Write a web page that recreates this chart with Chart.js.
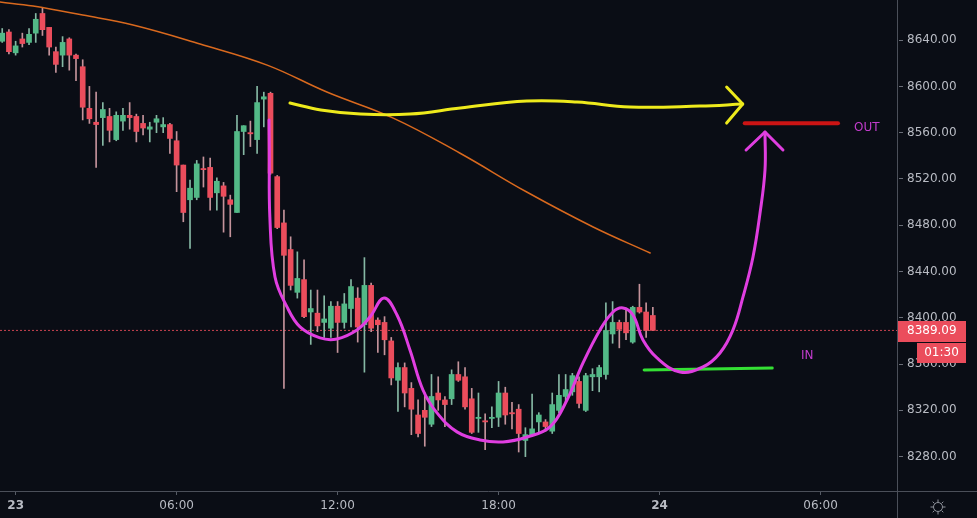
<!DOCTYPE html>
<html>
<head>
<meta charset="utf-8">
<script src="https://cdn.jsdelivr.net/npm/chart.js@4.4.0/dist/chart.umd.min.js"></script>
<style>
  html, body { margin: 0; padding: 0; background: #0a0d15; }
  #wrap { width: 977px; height: 518px; }
</style>
</head>
<body>
<div id="wrap"><canvas id="myChart"></canvas></div>
<script>
// 15 min candles, x = candle index, 0 = "23" 00:00 (first visible candle is 22 23:30)
const firstIdx = -2;

const opens = [8639,8647,8629,8641,8638,8646,8663,8651,8630,8627,
  8641,8627,8617,8581,8569,8573,8574,8554,8570,8575,
  8574,8568,8563,8569,8565,8567,8553,8532,8502,8504,
  8529,8530,8508,8514,8502,8491,8561,8560,8554,8589,
  8594,8522,8482,8459,8422,8433,8405,8404,8396,8391,
  8410,8396,8408,8417,8394,8428,8398,8396,8380,8346,
  8357,8339,8316,8320,8308,8335,8329,8330,8351,8349,
  8330,8313,8311,8313,8314,8335,8318,8321,8294,8299,
  8310,8310,8302,8320,8332,8336,8345,8320,8349,8349,
  8351,8386,8396,8396,8379,8409,8405,8402];
const highs = [8650,8649,8639,8646,8650,8663,8668,8651,8634,8643,
  8642,8628,8623,8600,8595,8586,8581,8578,8581,8586,
  8576,8575,8569,8575,8573,8568,8561,8532,8519,8536,
  8539,8538,8521,8517,8506,8575,8566,8570,8600,8595,
  8595,8523,8493,8470,8457,8450,8424,8424,8419,8414,
  8414,8421,8433,8426,8452,8430,8400,8401,8383,8361,
  8361,8344,8329,8335,8351,8349,8332,8355,8362,8357,
  8339,8335,8317,8323,8345,8340,8327,8325,8305,8334,
  8318,8312,8335,8351,8351,8352,8349,8352,8356,8359,
  8413,8414,8398,8408,8410,8429,8413,8409];
const lows = [8638,8628,8627,8634,8636,8638,8644,8627,8612,8617,
  8614,8605,8571,8568,8530,8549,8552,8553,8562,8563,
  8552,8558,8552,8560,8560,8542,8509,8483,8460,8502,
  8513,8493,8493,8474,8470,8491,8541,8548,8542,8565,
  8524,8477,8339,8424,8417,8400,8377,8388,8383,8383,
  8370,8391,8392,8379,8353,8388,8370,8368,8342,8319,
  8323,8299,8297,8289,8306,8320,8306,8325,8345,8321,
  8300,8301,8286,8305,8306,8308,8304,8284,8280,8298,
  8300,8302,8300,8318,8327,8333,8322,8319,8337,8336,
  8347,8378,8374,8381,8378,8404,8383,8389];
const closes = [8646,8630,8635,8637,8645,8658,8649,8634,8619,8638,
  8627,8624,8582,8572,8567,8580,8562,8575,8575,8573,
  8561,8564,8565,8572,8567,8555,8532,8491,8512,8533,
  8528,8504,8518,8505,8498,8561,8566,8559,8586,8591,
  8525,8478,8454,8428,8434,8401,8408,8393,8399,8410,
  8396,8412,8427,8392,8428,8391,8394,8381,8348,8357,
  8335,8321,8300,8314,8332,8329,8325,8351,8346,8323,
  8301,8314,8310,8314,8335,8316,8317,8300,8299,8304,
  8316,8306,8325,8333,8338,8350,8326,8350,8351,8357,
  8389,8396,8390,8387,8409,8405,8389,8389.09];

const xTickIdx = [0, 24, 48, 72, 96, 120];
const xTickLabels = ["23", "06:00", "12:00", "18:00", "24", "06:00"];
const lastPrice = 8389.09;
const timerText = "01:30";

// moving average (orange)
const maIdx = [-2.33, 2.6, 10, 17.5, 27.5, 37.5, 46.4, 56.3, 66.2, 76.2, 86.1, 94.6];
const maVal = [8672.9, 8669.4, 8661.6, 8653.0, 8636.6, 8618.4, 8595.1, 8572.6, 8542.4, 8508.7, 8478.5, 8456.0];

// hand drawings
const cupIdx = [37.78, 37.82, 37.9, 38.67, 40.46, 42.4, 45.38, 47.91, 50.89, 52.83, 54.92, 56.86, 58.79, 60.73, 62.82, 65.8, 69.23, 72.66, 76.24, 79.67, 82.2, 84.59, 87.12, 89.06, 90.55, 92.04, 93.53, 95.62, 99.05, 102.48, 105.01, 106.95, 108.44, 109.93, 110.98, 111.72, 111.72];
const cupVal = [8570.9, 8545.0, 8487.1, 8435.3, 8409.4, 8392.1, 8382.6, 8381.7, 8389.5, 8400.7, 8417.1, 8402.4, 8372.2, 8337.6, 8317.8, 8301.4, 8294.4, 8292.7, 8297.0, 8305.7, 8329.0, 8361.0, 8389.5, 8405.0, 8408.5, 8402.4, 8380.8, 8365.3, 8353.2, 8357.5, 8369.6, 8389.5, 8418.0, 8452.6, 8490.6, 8527.7, 8560.6];
const cupHeadIdx = [108.9, 111.72, 114.4];
const cupHeadVal = [8545.0, 8560.6, 8545.0];

const yellowIdx = [40.9, 45.5, 51.4, 58.8, 66.3, 76.2, 83.7, 91.6, 102.0, 108.4];
const yellowVal = [8585.6, 8579.6, 8576.1, 8576.1, 8581.3, 8587.3, 8586.5, 8582.2, 8583.0, 8584.7];
const yellowHeadIdx = [106.0, 108.4, 106.0];
const yellowHeadVal = [8599.4, 8584.7, 8568.3];

const outIdx = [108.7, 122.6];
const outVal = [8568.2, 8568.2];
const inIdx = [93.7, 112.8];
const inVal = [8354.9, 8356.6];
const outLabel = { idx: 125, val: 8564, text: "OUT" };
const inLabel = { idx: 117.1, val: 8367, text: "IN" };

const upColor = '#53b987';
const downColor = '#eb4d5c';
const axisText = '#b8bbc3';
const fontFamily = '"DejaVu Sans", sans-serif';

const xs = opens.map((_, i) => firstIdx + i);
const isUp = opens.map((o, i) => closes[i] >= o);

function path(idx, val, color, width, tension, order) {
    return {
        type: 'line',
        data: idx.map((v, i) => ({ x: v, y: val[i] })),
        borderColor: color,
        borderWidth: width,
        pointRadius: 0,
        tension: tension,
        fill: false,
        order: order,
        borderCapStyle: 'round',
        borderJoinStyle: 'round'
    };
}

const decor = {
    id: 'decor',
    beforeDraw(chart) {
        const c = chart.ctx;
        c.save();
        c.fillStyle = '#0a0d15';
        c.fillRect(0, 0, chart.width, chart.height);
        c.restore();
    },
    afterDraw(chart) {
        const c = chart.ctx;
        const a = chart.chartArea;
        const x = chart.scales.x, y = chart.scales.y;
        c.save();
        // axis separators
        c.strokeStyle = '#4b4f59';
        c.lineWidth = 1;
        c.beginPath();
        c.moveTo(Math.round(a.right) + 0.5, 0);
        c.lineTo(Math.round(a.right) + 0.5, chart.height);
        c.moveTo(0, Math.round(a.bottom) + 0.5);
        c.lineTo(chart.width, Math.round(a.bottom) + 0.5);
        c.stroke();

        // OUT / IN
        c.font = '12px ' + fontFamily;
        c.fillStyle = '#c23ccc';
        c.textBaseline = 'middle';
        c.textAlign = 'left';
        c.fillText(outLabel.text, x.getPixelForValue(outLabel.idx), y.getPixelForValue(outLabel.val));
        c.fillText(inLabel.text, x.getPixelForValue(inLabel.idx), y.getPixelForValue(inLabel.val));

        // last price + timer
        const py = Math.round(y.getPixelForValue(lastPrice));
        c.fillStyle = downColor;
        c.fillRect(a.right + 1, py - 9, 68, 21);
        c.fillRect(a.right + 20, py + 13, 49, 20);
        c.fillStyle = '#ffffff';
        c.fillText(lastPrice.toFixed(2), a.right + 10, py + 1);
        c.textAlign = 'center';
        c.fillText(timerText, a.right + 44.5, py + 23);

        // settings icon
        const gx = 938, gy = 507;
        c.strokeStyle = '#8f939c';
        c.beginPath();
        c.arc(gx, gy, 4.5, 0, Math.PI * 2);
        for (let k = 0; k < 8; k++) {
            const t = k * Math.PI / 4;
            c.moveTo(gx + Math.cos(t) * 5, gy + Math.sin(t) * 5);
            c.lineTo(gx + Math.cos(t) * 7.5, gy + Math.sin(t) * 7.5);
        }
        c.stroke();
        c.restore();
    }
};

const ctx = document.getElementById('myChart').getContext('2d');

new Chart(ctx, {
    type: 'bar',
    data: {
        datasets: [
            path(maIdx, maVal, '#d9691e', 1.5, 0.4, 0),
            path(cupIdx, cupVal, '#e03ee0', 3, 0.4, -1),
            path(cupHeadIdx, cupHeadVal, '#e03ee0', 3, 0, -1),
            path(yellowIdx, yellowVal, '#eeea1c', 3, 0.4, -1),
            path(yellowHeadIdx, yellowHeadVal, '#eeea1c', 3, 0, -1),
            path(outIdx, outVal, '#cc1414', 4, 0, -1),
            path(inIdx, inVal, '#34e034', 3, 0, -1),
            {
                type: 'line',
                data: [{ x: -2.33, y: lastPrice }, { x: 131.4, y: lastPrice }],
                borderColor: 'rgba(235,77,92,0.85)',
                borderWidth: 1,
                borderDash: [2, 2],
                pointRadius: 0,
                order: 5
            },
            {
                label: 'bodies',
                data: xs.map((v, i) => ({ x: v, y: [opens[i], closes[i]] })),
                backgroundColor: isUp.map(u => u ? upColor : downColor),
                barThickness: 5,
                grouped: false,
                borderWidth: 0,
                order: 1
            },
            {
                label: 'wicks',
                data: xs.map((v, i) => ({ x: v, y: [lows[i], highs[i]] })),
                backgroundColor: isUp.map(u => u ? '#86b8a4' : '#c4939b'),
                barThickness: 1,
                grouped: false,
                borderWidth: 0,
                order: 2
            }
        ]
    },
    options: {
        responsive: true,
        maintainAspectRatio: false,
        animation: false,
        devicePixelRatio: 1,
        layout: { padding: 0, autoPadding: false },
        plugins: {
            legend: { display: false },
            tooltip: { enabled: false }
        },
        scales: {
            x: {
                type: 'linear',
                min: -2.33,
                max: 131.4,
                offset: false,
                afterBuildTicks: scale => { scale.ticks = xTickIdx.map(v => ({ value: v })); },
                afterFit: scale => { scale.height = 27; },
                grid: { drawOnChartArea: false, offset: false, tickLength: 4, color: '#555a64' },
                border: { display: false },
                ticks: {
                    autoSkip: false,
                    maxRotation: 0,
                    padding: 4,
                    color: axisText,
                    font: c => ({ family: fontFamily, size: 12, weight: (c.index === 0 || c.index === 4) ? 'bold' : 'normal' }),
                    callback: (v, i) => xTickLabels[i]
                }
            },
            y: {
                type: 'linear',
                position: 'right',
                min: 8250.3,
                max: 8674.6,
                afterFit: scale => { scale.width = 80; },
                grid: {
                    drawOnChartArea: false,
                    tickLength: 10,
                    tickBorderDash: [0, 2, 4, 50],
                    color: '#6a6e78'
                },
                border: { display: false },
                ticks: {
                    stepSize: 40,
                    includeBounds: false,
                    padding: 0,
                    color: axisText,
                    font: { family: fontFamily, size: 12, lineHeight: 0.01 },
                    callback: v => v.toFixed(2)
                }
            }
        }
    },
    plugins: [decor]
});
</script>
</body>
</html>
